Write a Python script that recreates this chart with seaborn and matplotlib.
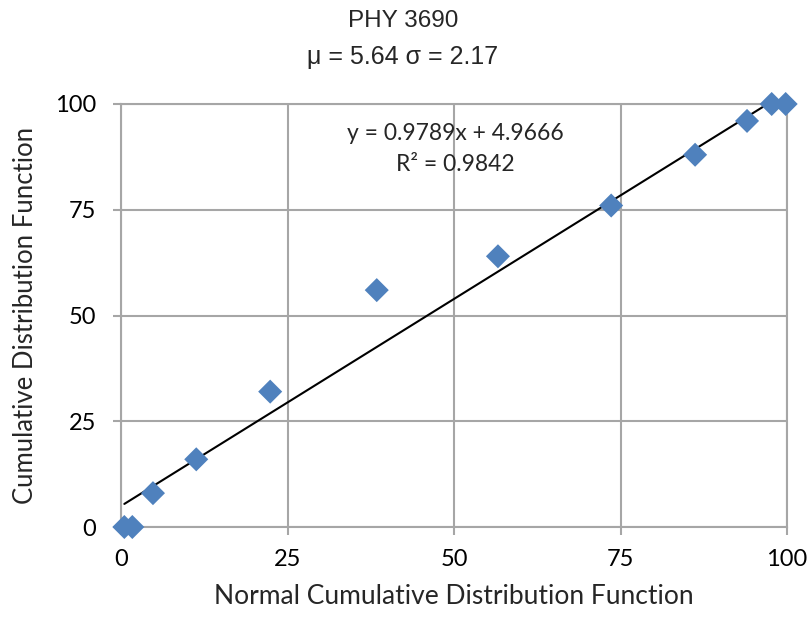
import numpy as np
import pandas as pd
import matplotlib
matplotlib.use("Agg")
import matplotlib.pyplot as plt
import seaborn as sns

# datos
normal_cdf = [0.5, 1.7, 4.8, 11.3, 22.4, 38.4, 56.6, 73.6, 86.2, 94.0, 97.7, 99.8]
cum_cdf = [0, 0, 8, 16, 32, 56, 64, 76, 88, 96, 100, 100]
pendiente = 0.9789
intercepto = 4.9666
r2 = 0.9842
titulo = "PHY 3690"
subtitulo = "\u03bc = 5.64 \u03c3 = 2.17"
ticks = [0, 25, 50, 75, 100]

sns.set_theme(style="white")
plt.rcParams["font.family"] = ["Lato", "DejaVu Sans"]

df = pd.DataFrame({"x": normal_cdf, "y": cum_cdf})

fig = plt.figure(figsize=(8.09, 6.17), dpi=100)
ax = fig.add_axes([121 / 809, 1 - 527 / 617, 666 / 809, 423 / 617])

gris = "#A6A6A6"
ax.set_xlim(0, 100)
ax.set_ylim(0, 100)
ax.set_xticks(ticks)
ax.set_yticks(ticks)
ax.grid(True, color=gris, linewidth=1.5)
for lado in ["top", "right", "left", "bottom"]:
    ax.spines[lado].set_color(gris)
    ax.spines[lado].set_linewidth(1.5)
ax.tick_params(axis="both", length=6, width=1.5, color=gris, labelsize=17,
               bottom=True, left=True, labelcolor="black")
ax.tick_params(axis="x", pad=10)
ax.tick_params(axis="y", pad=12)

# linea de tendencia
xs = np.array([min(normal_cdf), max(normal_cdf)])
ax.plot(xs, pendiente * xs + intercepto, color="black", linewidth=1.5, zorder=3)

sns.scatterplot(data=df, x="x", y="y", ax=ax, marker="D", s=150, color="#4F81BD",
                edgecolor="none", zorder=4, clip_on=False)

ax.text(50.2, 93.1, f"y = {pendiente}x + {intercepto}", ha="center", va="center", fontsize=16.5)
ax.text(50.2, 85.6, f"R\u00b2 = {r2}", ha="center", va="center", fontsize=16.5)

ax.set_xlabel("Normal Cumulative Distribution Function", fontsize=19, labelpad=10)
ax.set_ylabel("Cumulative Distribution Function", fontsize=18.5, labelpad=12)

fig.text(403 / 809, 1 - 21 / 617, titulo, ha="center", va="center", fontsize=17.5,
         family=["Liberation Sans", "DejaVu Sans"])
fig.text(403 / 809, 1 - 57 / 617, subtitulo, ha="center", va="center", fontsize=18,
         family=["Liberation Sans", "DejaVu Sans"])

fig.savefig("out.png", dpi=100)
